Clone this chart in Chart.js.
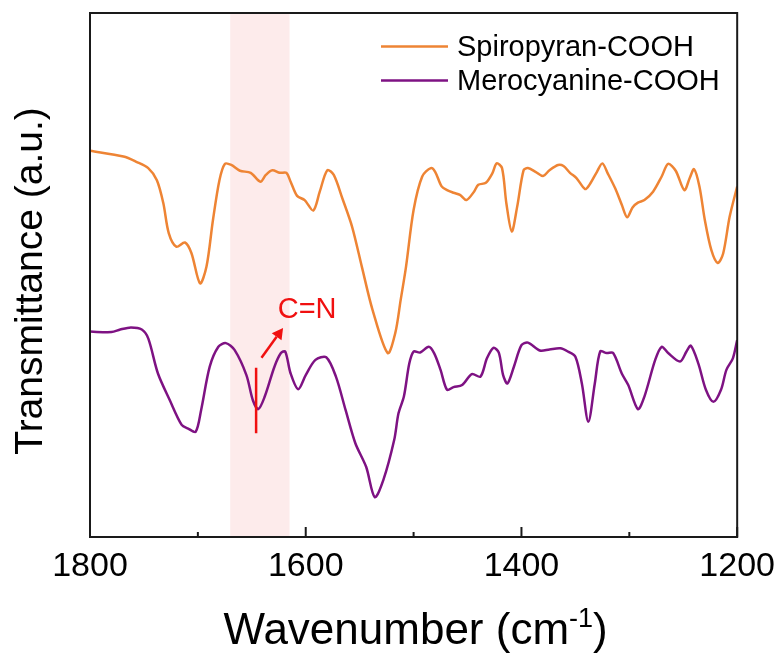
<!DOCTYPE html>
<html>
<head>
<meta charset="utf-8">
<script src="https://cdn.jsdelivr.net/npm/chart.js@4/dist/chart.umd.min.js"></script>
<style>
html,body{margin:0;padding:0;background:#fff;}
#wrap{width:784px;height:656px;position:relative;}
</style>
</head>
<body>
<div id="wrap"><canvas id="c"></canvas></div>
<script>
// ---- data ----
const seriesNames = ["Spiropyran-COOH", "Merocyanine-COOH"];
const spWn = [1800,1769,1757,1746,1738,1732,1727,1720,1712,1706,1698,1692,1686,1680,1675,1669,1661,1651,1642,1637,1631,1624,1618,1614,1608,1601,1593,1587,1580,1574,1566,1557,1548,1538,1524,1517,1512,1507,1500,1492,1484,1480,1474,1469,1463,1457,1451,1444,1440,1433,1427,1423,1418,1414,1409,1404,1398,1394,1387,1380,1374,1366,1361,1355,1349,1341,1337,1330,1325,1320,1313,1307,1302,1297,1292,1286,1278,1270,1264,1257,1249,1244,1240,1235,1230,1224,1218,1213,1207,1200];
const spT = [73.7,72.6,71.6,70.4,68.1,63.7,58.0,55.4,56.2,54.2,48.4,51.6,60.5,68.1,71.2,71.0,69.9,69.5,67.8,69.1,70.0,69.5,69.5,67.8,65.1,64.3,62.3,65.9,70.0,69.1,64.6,59.2,51.6,43.3,35.1,38.9,45.2,51.6,62.4,68.8,70.4,69.7,66.9,66.2,65.7,65.3,64.3,65.9,67.2,67.6,69.4,71.3,70.4,63.7,58.3,63.0,70.0,70.4,69.7,68.9,70.0,71.0,70.8,69.5,68.5,66.4,67.2,69.7,71.3,69.4,66.5,63.4,61.0,62.9,63.8,64.3,65.9,68.8,71.2,69.9,66.2,68.5,70.2,66.9,60.5,54.8,52.3,54.1,61.1,66.9];
const mcWn = [1800,1780,1772,1762,1752,1746,1737,1726,1715,1709,1702,1697,1689,1681,1674,1666,1655,1649,1644,1638,1629,1623,1619,1614,1607,1600,1591,1581,1572,1563,1554,1544,1536,1528,1518,1514,1509,1504,1500,1494,1486,1481,1475,1469,1463,1455,1446,1438,1432,1426,1421,1417,1413,1407,1400,1394,1383,1374,1364,1357,1350,1344,1338,1332,1327,1321,1315,1307,1301,1292,1286,1276,1270,1264,1253,1247,1243,1236,1229,1222,1215,1210,1204,1200];
const mcT = [39.2,39.1,39.6,40.0,39.6,37.9,31.2,26.1,21.4,20.7,20.1,24.2,32.5,36.3,37.0,35.7,30.9,26.1,24.4,26.8,32.5,35.1,35.4,31.2,28.2,30.9,33.8,34.3,30.6,24.2,17.9,13.4,7.6,10.9,18.5,23.6,26.8,33.1,35.4,35.2,36.3,35.1,31.9,28.1,28.6,29.0,31.1,30.6,34.1,36.1,35.2,30.9,29.3,32.5,36.6,37.1,35.6,35.8,36.0,35.4,34.4,29.3,22.0,29.3,35.4,35.1,35.1,31.2,29.0,24.4,26.8,33.8,36.3,35.1,33.5,35.4,36.5,33.1,28.1,25.8,28.1,31.9,34.1,37.6];
const xTickValues = [1800,1700,1600,1500,1400,1300,1200];
const xTickLabels = ["1800","","1600","","1400","","1200"];
const bandRange = [1670, 1615];        // shaded C=N region
const markWn = 1646;                   // C=N marker
const markRange = [19.8, 32.3];
const arrowFrom = [1641, 34.2];
const arrowTo = [1621, 39.9];
const annotText = "C=N";
const annotPos = [1626, 43.4];

const ORANGE = '#EE8434';
const PURPLE = '#7E1283';
const RED = '#F01010';
const FONT = "'Liberation Sans', Arial, sans-serif";

const toXY = (xs, ys) => xs.map((x, i) => ({x: x, y: ys[i]}));

const decor = {
  id: 'decor',
  beforeDatasetsDraw(chart) {
    const {ctx, chartArea: a, scales: {x}} = chart;
    const x1 = x.getPixelForValue(bandRange[0]);
    const x2 = x.getPixelForValue(bandRange[1]);
    ctx.save();
    ctx.fillStyle = '#FDEBEB';
    ctx.fillRect(Math.min(x1, x2), a.top, Math.abs(x2 - x1), a.bottom - a.top);
    ctx.restore();
  },
  afterDatasetsDraw(chart) {
    const {ctx, chartArea: a, scales: {x, y}} = chart;
    ctx.save();
    ctx.strokeStyle = RED;
    ctx.lineWidth = 2.5;
    const mx = x.getPixelForValue(markWn);
    ctx.beginPath();
    ctx.moveTo(mx, y.getPixelForValue(markRange[0]));
    ctx.lineTo(mx, y.getPixelForValue(markRange[1]));
    ctx.stroke();
    const ax1 = x.getPixelForValue(arrowFrom[0]), ay1 = y.getPixelForValue(arrowFrom[1]);
    const ax2 = x.getPixelForValue(arrowTo[0]), ay2 = y.getPixelForValue(arrowTo[1]);
    const ang = Math.atan2(ay2 - ay1, ax2 - ax1);
    const hl = 11, hw = 6;
    const bx = ax2 - hl * Math.cos(ang), by = ay2 - hl * Math.sin(ang);
    ctx.beginPath();
    ctx.moveTo(ax1, ay1);
    ctx.lineTo(bx, by);
    ctx.stroke();
    ctx.fillStyle = RED;
    ctx.beginPath();
    ctx.moveTo(ax2, ay2);
    ctx.lineTo(bx + hw * Math.sin(ang), by - hw * Math.cos(ang));
    ctx.lineTo(bx - hw * Math.sin(ang), by + hw * Math.cos(ang));
    ctx.closePath();
    ctx.fill();
    ctx.font = '29px ' + FONT;
    ctx.textAlign = 'left';
    ctx.textBaseline = 'middle';
    ctx.fillText(annotText, x.getPixelForValue(annotPos[0]), y.getPixelForValue(annotPos[1]));

    ctx.strokeStyle = '#1a1a1a';
    ctx.lineWidth = 2;
    ctx.strokeRect(a.left, a.top, a.right - a.left, a.bottom - a.top);
    xTickValues.forEach((v, i) => {
      const px = x.getPixelForValue(v);
      const len = xTickLabels[i] ? 10 : 5;
      ctx.beginPath();
      ctx.moveTo(px, a.bottom);
      ctx.lineTo(px, a.bottom - len);
      ctx.stroke();
    });
    ctx.restore();
  },
  afterDraw(chart) {
    const {ctx, chartArea: a} = chart;
    ctx.save();
    const cols = [ORANGE, PURPLE];
    const rows = [46.5, 80.5];
    ctx.font = '29px ' + FONT;
    ctx.textBaseline = 'middle';
    ctx.textAlign = 'left';
    seriesNames.forEach((n, i) => {
      ctx.strokeStyle = cols[i];
      ctx.lineWidth = 2.5;
      ctx.beginPath();
      ctx.moveTo(381, rows[i]);
      ctx.lineTo(448, rows[i]);
      ctx.stroke();
      ctx.fillStyle = '#000';
      ctx.fillText(n, 457, rows[i] + 1);
    });
    ctx.fillStyle = '#000';
    ctx.textBaseline = 'alphabetic';
    const big = '44px ' + FONT, small = '27px ' + FONT;
    const p1 = 'Wavenumber (cm', p2 = '-1', p3 = ')';
    ctx.font = big; const w1 = ctx.measureText(p1).width, w3 = ctx.measureText(p3).width;
    ctx.font = small; const w2 = ctx.measureText(p2).width;
    const total = w1 + w2 + w3;
    let sx = (a.left + a.right) / 2 - total / 2 + 2;
    const base = 644;
    ctx.font = big; ctx.fillText(p1, sx, base);
    ctx.font = small; ctx.fillText(p2, sx + w1, base - 17);
    ctx.font = big; ctx.fillText(p3, sx + w1 + w2, base);
    ctx.translate(31, 281);
    ctx.rotate(-Math.PI / 2);
    ctx.font = '39px ' + FONT;
    ctx.textAlign = 'center';
    ctx.textBaseline = 'middle';
    ctx.fillText('Transmittance (a.u.)', 0, 0);
    ctx.restore();
  }
};

new Chart(document.getElementById('c'), {
  type: 'line',
  data: {
    datasets: [
      {label: seriesNames[0], data: toXY(spWn, spT), borderColor: ORANGE, borderWidth: 2.5,
       pointRadius: 0, tension: 0.3, fill: false},
      {label: seriesNames[1], data: toXY(mcWn, mcT), borderColor: PURPLE, borderWidth: 2.5,
       pointRadius: 0, tension: 0.3, fill: false}
    ]
  },
  options: {
    responsive: true,
    maintainAspectRatio: false,
    animation: false,
    events: [],
    layout: {padding: {left: 90, top: 13, right: 44.5, bottom: 0}},
    plugins: {legend: {display: false}, tooltip: {enabled: false}, title: {display: false}},
    scales: {
      x: {
        type: 'linear', reverse: true, min: 1200, max: 1800,
        afterBuildTicks(scale) { scale.ticks = xTickValues.map(v => ({value: v})); },
        afterFit(scale) { scale.height = 119; },
        grid: {display: false, drawTicks: false},
        border: {display: false},
        ticks: {
          padding: 9, maxRotation: 0, autoSkip: false, color: '#000',
          font: {family: FONT, size: 34},
          callback(v) { const i = xTickValues.indexOf(v); return i >= 0 ? xTickLabels[i] : ''; }
        }
      },
      y: {type: 'linear', min: 0, max: 100, display: false}
    }
  },
  plugins: [decor]
});
</script>
</body>
</html>
